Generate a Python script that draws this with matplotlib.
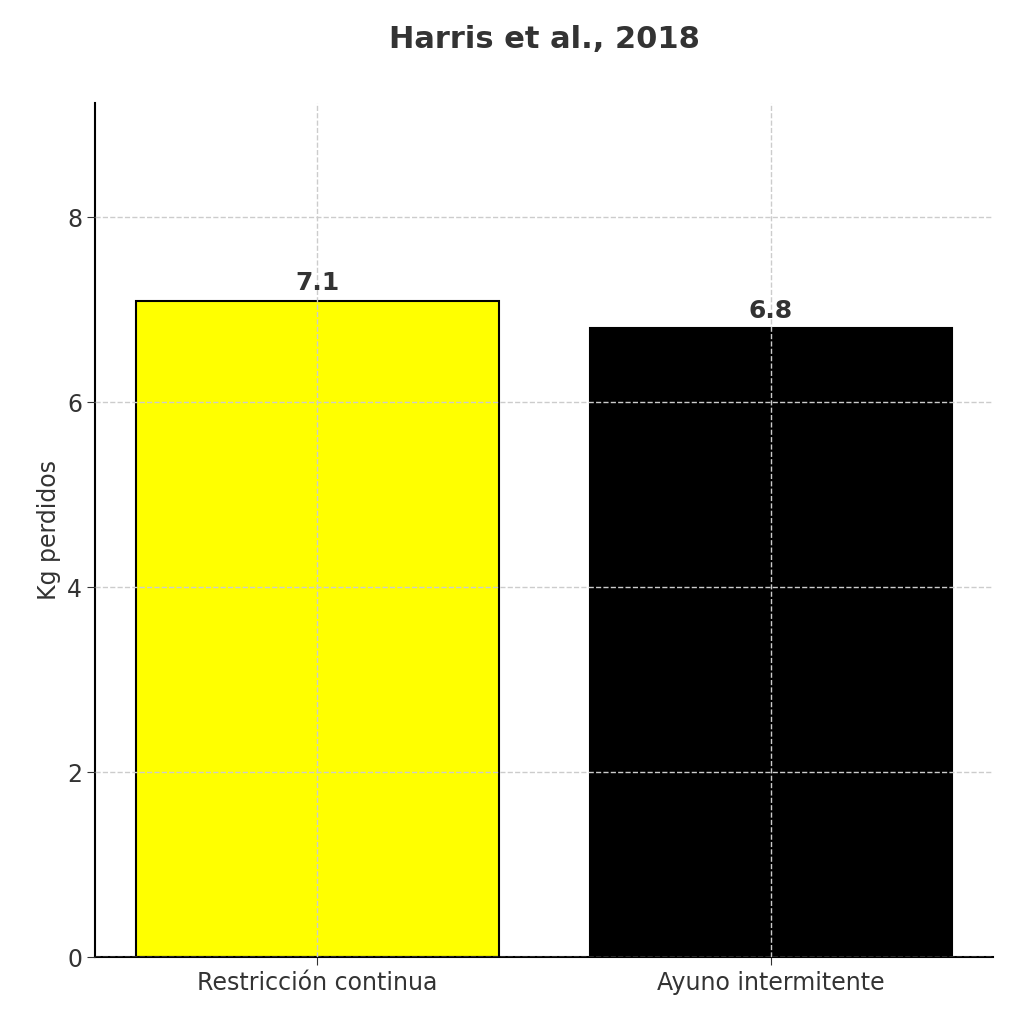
import matplotlib
matplotlib.use("Agg")
import matplotlib.pyplot as plt

categories = ["Restricción continua", "Ayuno intermitente"]
values = [7.1, 6.8]
colors = ["#ffff00", "#000000"]

fig = plt.figure(figsize=(10.24, 10.24), dpi=100)
ax = fig.add_axes([0.093, 0.065, 0.877, 0.834])

bars = ax.bar(categories, values, color=colors, edgecolor="black", linewidth=1.5, width=0.8)
for b, v in zip(bars, values):
    ax.text(b.get_x() + b.get_width() / 2, v + 0.06, f"{v}", ha="center", va="bottom",
            fontsize=18, fontweight="bold", color="#333333")

ax.set_ylim(0, max(values) * 1.3)
ax.set_ylabel("Kg perdidos", fontsize=17, color="#333333")
ax.set_title("Harris et al., 2018", fontsize=22, fontweight="bold", color="#333333", pad=40)
ax.grid(True, linestyle="--", color="#cccccc", linewidth=1)
ax.set_axisbelow(False)
for s in ("top", "right"):
    ax.spines[s].set_visible(False)
ax.spines["left"].set_linewidth(1.5)
ax.spines["bottom"].set_linewidth(1.5)
ax.tick_params(labelsize=17, colors="#333333", length=6)

fig.savefig("out.png")
